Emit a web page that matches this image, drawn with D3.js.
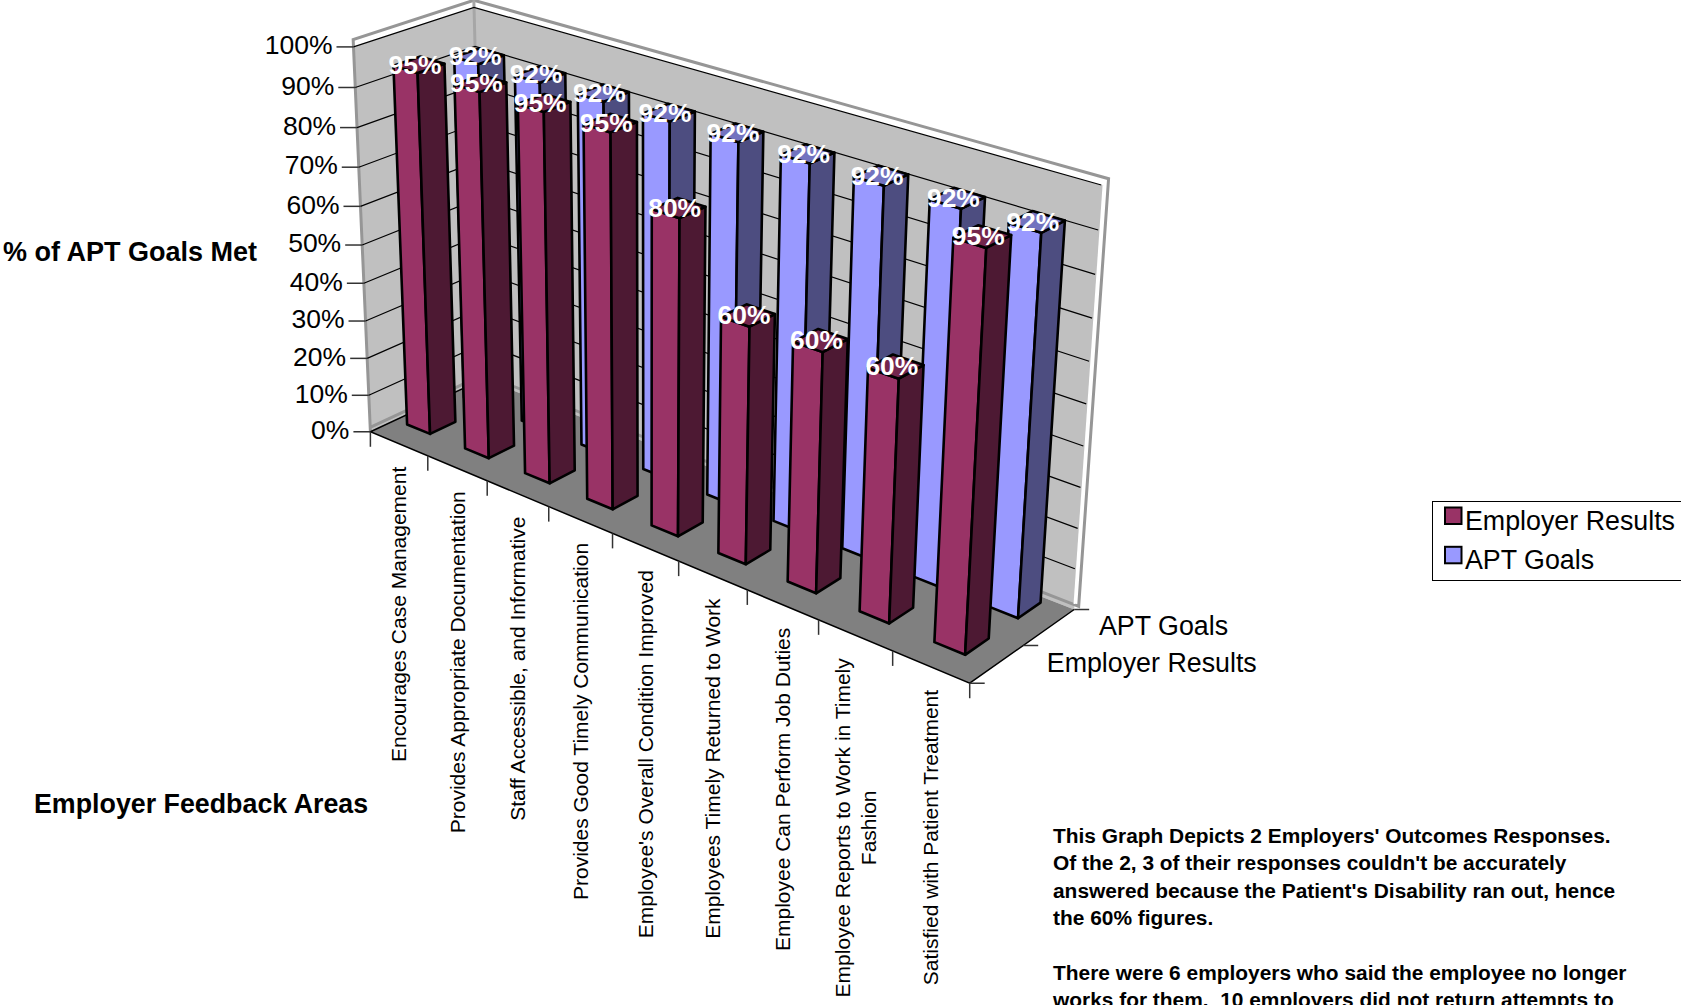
<!DOCTYPE html>
<html>
<head>
<meta charset="utf-8">
<script src="https://cdn.jsdelivr.net/npm/d3@7"></script>
<style>
  html, body { margin: 0; padding: 0; background: #fff; overflow: hidden; }
  svg { display: block; }
  text { font-family: "Liberation Sans", Arial, sans-serif; fill: #000; white-space: pre; }
</style>
</head>
<body>
<div id="chart"></div>
<script>
const categories = [
  ['Encourages Case Management'],
  ['Provides Appropriate Documentation'],
  ['Staff Accessible, and Informative'],
  ['Provides Good Timely Communication'],
  ["Employee's Overall Condition Improved"],
  ['Employees Timely Returned to Work'],
  ['Employee Can Perform Job Duties'],
  ['Employee Reports to Work in Timely', 'Fashion'],
  ['Satisfied with Patient Treatment']
];
const seriesNames = ['Employer Results', 'APT Goals'];
const employerResults = [0.95, 0.95, 0.95, 0.95, 0.80, 0.60, 0.60, 0.60, 0.95];
const aptGoals = [0.92, 0.92, 0.92, 0.92, 0.92, 0.92, 0.92, 0.92, 0.92];
const yTicks = [0, 0.1, 0.2, 0.3, 0.4, 0.5, 0.6, 0.7, 0.8, 0.9, 1];
const notes = [
  "This Graph Depicts 2 Employers' Outcomes Responses.",
  "Of the 2, 3 of their responses couldn't be accurately",
  "answered because the Patient's Disability ran out, hence",
  'the 60% figures.',
  '',
  'There were 6 employers who said the employee no longer',
  'works for them.  10 employers did not return attempts to'
];

const colors = {
  'Employer Results': { front: '#993366', side: '#4d1933', top: '#73264d' },
  'APT Goals': { front: '#9999ff', side: '#4d4d80', top: '#7373bf' }
};

const width = 1681;
const height = 1005;
const barBase = 0.014; // the bars stand on the thickness of the floor

// scales work in the unit cube, the projection below takes it to the screen
const x = d3.scaleBand().domain(d3.range(categories.length)).range([0, 1]).paddingInner(0.6).paddingOuter(0.3);
const z = d3.scaleBand().domain(seriesNames).range([0.03, 1.03]).paddingInner(0.56).paddingOuter(0.28);
const y = d3.scaleLinear().domain([0, 1]).range([0, 1]);

// where the cube's landmarks sit in the picture: [x, y, z, screenX, screenY]
const calibration = [
  [0, 0, 0, 372, 430], [1, 0, 0, 970, 684], [0, 1, 0, 352, 48],
  [0, 0, 1, 482, 381], [1, 0, 1, 1074, 608], [0, 1, 1, 476, 6],
  [1, 1, 1, 1103, 186], [5 / 9, 0, 0, 678, 561], [1, 0, 0.5, 1024, 646],
  [0, 0.5, 0, 362, 245]
];

// least squares for the 3x4 perspective matrix
function solveProjection(points) {
  const rows = [];
  points.forEach(([a, b, c, u, v]) => {
    rows.push([a, b, c, 1, 0, 0, 0, 0, -u * a, -u * b, -u * c, u]);
    rows.push([0, 0, 0, 0, a, b, c, 1, -v * a, -v * b, -v * c, v]);
  });
  const n = 11;
  const m = d3.range(n).map(i => d3.range(n + 1).map(j => d3.sum(rows, r => r[i] * r[j])));
  for (let i = 0; i < n; i++) {
    let p = i;
    for (let k = i + 1; k < n; k++) if (Math.abs(m[k][i]) > Math.abs(m[p][i])) p = k;
    [m[i], m[p]] = [m[p], m[i]];
    for (let k = 0; k < n; k++) {
      if (k === i) continue;
      const f = m[k][i] / m[i][i];
      for (let j = i; j <= n; j++) m[k][j] -= f * m[i][j];
    }
  }
  return d3.range(n).map(i => m[i][n] / m[i][i]);
}

const M = solveProjection(calibration);
function project(a, b, c) {
  const w = M[8] * a + M[9] * b + M[10] * c + 1;
  return [(M[0] * a + M[1] * b + M[2] * c + M[3]) / w, (M[4] * a + M[5] * b + M[6] * c + M[7]) / w];
}
const line = d3.line();
const poly = pts => line(pts.map(p => project(p[0], p[1], p[2]))) + 'Z';
const open = pts => line(pts.map(p => project(p[0], p[1], p[2])));

const svg = d3.select('#chart').append('svg').attr('width', width).attr('height', height);

// walls
svg.append('path').attr('d', poly([[0, 0, 0], [0, 1, 0], [0, 1, 1], [0, 0, 1]])).attr('fill', '#c0c0c0');
svg.append('path').attr('d', poly([[0, 0, 1], [0, 1, 1], [1, 1, 1], [1, 0, 1]])).attr('fill', '#c0c0c0');

// wall frame
const frameTop = 1.018;
svg.append('path').attr('d', open([[0, 0, 0], [0, frameTop, 0], [0, frameTop, 1], [1.006, frameTop, 1], [1.006, 0.012, 1], [0, 0.012, 1], [0, 0.012, 0]]))
  .attr('fill', 'none').attr('stroke', '#969696').attr('stroke-width', 3);
svg.append('path').attr('d', open([[0, 0, 1], [0, frameTop, 1]]))
  .attr('fill', 'none').attr('stroke', '#a6a6a6').attr('stroke-width', 3);
svg.append('path').attr('d', open([[1, 1, 1], [1, 0.014, 1]]))
  .attr('fill', 'none').attr('stroke', '#fff').attr('stroke-width', 2);

// gridlines on both walls
svg.append('g').selectAll('path').data(yTicks.slice(1)).join('path')
  .attr('d', t => open([[0, y(t), 0], [0, y(t), 1], [0.997, y(t), 1]]))
  .attr('fill', 'none').attr('stroke', '#000').attr('stroke-width', 1.2);

// floor
svg.append('path').attr('d', poly([[0, 0, 0], [1, 0, 0], [1, 0, 1], [0, 0, 1]])).attr('fill', '#808080');
svg.append('path').attr('d', open([[0, 0, 1], [0, 0, 0], [1, 0, 0], [1, 0, 1]]))
  .attr('fill', 'none').attr('stroke', '#000').attr('stroke-width', 1.5);

// y ticks and labels
yTicks.forEach(t => {
  const [px, py] = project(0, y(t), 0);
  svg.append('line').attr('x1', px - 17).attr('x2', px).attr('y1', py).attr('y2', py)
    .attr('stroke', '#333').attr('stroke-width', 1.5);
  svg.append('text').attr('x', px - 21).attr('y', py - 2 + 9.3).attr('text-anchor', 'end')
    .attr('font-size', 26.5).text(d3.format('.0%')(t));
});

// x ticks and labels
d3.range(categories.length + 1).forEach(i => {
  const [px, py] = project(i / categories.length, 0, 0);
  svg.append('line').attr('x1', px).attr('x2', px).attr('y1', py).attr('y2', py + 15)
    .attr('stroke', '#333').attr('stroke-width', 1.5);
});
categories.forEach((lines, i) => {
  const [px, py] = project(x(i) + x.bandwidth() / 2, 0, 0);
  const g = svg.append('g').attr('transform', `translate(${px},${py + 23}) rotate(-90)`);
  const lead = 26;
  const texts = lines.map((s, k) => g.append('text').attr('font-size', 21)
    .attr('y', 7.5 + (k - (lines.length - 1) / 2) * lead).text(s));
  const longest = d3.max(texts, t => t.node().getComputedTextLength());
  texts.forEach(t => t.attr('x', -longest / 2).attr('text-anchor', 'middle'));
});

// z ticks and labels
[0, 0.5, 1].forEach(t => {
  const [px, py] = project(1, 0, t);
  svg.append('line').attr('x1', px).attr('x2', px + 15).attr('y1', py).attr('y2', py)
    .attr('stroke', '#333').attr('stroke-width', 1.5);
});
[['APT Goals', 0.75], ['Employer Results', 0.25]].forEach(([name, t]) => {
  const [px, py] = project(1, 0, t);
  svg.append('text').attr('x', px + 50).attr('y', py + 8).attr('font-size', 26.8).text(name);
});

// bars, back row first
function drawRow(values, name) {
  const c = colors[name];
  const z0 = z(name);
  const z1 = z0 + z.bandwidth();
  const g = svg.append('g').attr('stroke', '#000').attr('stroke-width', 2.6).attr('stroke-linejoin', 'round');
  values.forEach((v, i) => {
    const x0 = x(i);
    const x1 = x0 + x.bandwidth();
    const h = y(v);
    g.append('path').attr('fill', c.front).attr('d', poly([[x0, barBase, z0], [x1, barBase, z0], [x1, h, z0], [x0, h, z0]]));
    g.append('path').attr('fill', c.side).attr('d', poly([[x1, barBase, z0], [x1, barBase, z1], [x1, h, z1], [x1, h, z0]]));
    g.append('path').attr('fill', c.top).attr('d', poly([[x0, h, z0], [x1, h, z0], [x1, h, z1], [x0, h, z1]]));
  });
}
drawRow(aptGoals, 'APT Goals');
drawRow(employerResults, 'Employer Results');

// data labels sit on top of everything
function drawLabels(values, name) {
  values.forEach((v, i) => {
    const [px, py] = project(x(i) + x.bandwidth() / 2, y(v), z(name) + z.bandwidth() / 2);
    svg.append('text').attr('x', px - 4).attr('y', py + 9).attr('text-anchor', 'middle')
      .attr('font-size', 26.4).attr('font-weight', 'bold').style('fill', '#fff')
      .text(d3.format('.0%')(v));
  });
}
drawLabels(aptGoals, 'APT Goals');
drawLabels(employerResults, 'Employer Results');

// axis titles
svg.append('text').attr('x', 3).attr('y', 261).attr('font-size', 27).attr('font-weight', 'bold').text('% of APT Goals Met');
svg.append('text').attr('x', 34).attr('y', 813).attr('font-size', 26.8).attr('font-weight', 'bold').text('Employer Feedback Areas');

// legend
svg.append('rect').attr('x', 1432.5).attr('y', 501.5).attr('width', 260).attr('height', 79)
  .attr('fill', '#fff').attr('stroke', '#000').attr('stroke-width', 1);
seriesNames.forEach((name, i) => {
  svg.append('rect').attr('x', 1445).attr('y', 507.5 + i * 39.3).attr('width', 16.5).attr('height', 16.5)
    .attr('fill', colors[name].front).attr('stroke', '#000').attr('stroke-width', 2);
  svg.append('text').attr('x', 1465).attr('y', 530 + i * 39).attr('font-size', 26.8).text(name);
});

// note under the legend
svg.append('g').selectAll('text').data(notes).join('text')
  .attr('x', 1053).attr('y', (d, i) => 843 + i * 27.4)
  .attr('font-size', 20.9).attr('font-weight', 'bold').text(d => d);
</script>
</body>
</html>
